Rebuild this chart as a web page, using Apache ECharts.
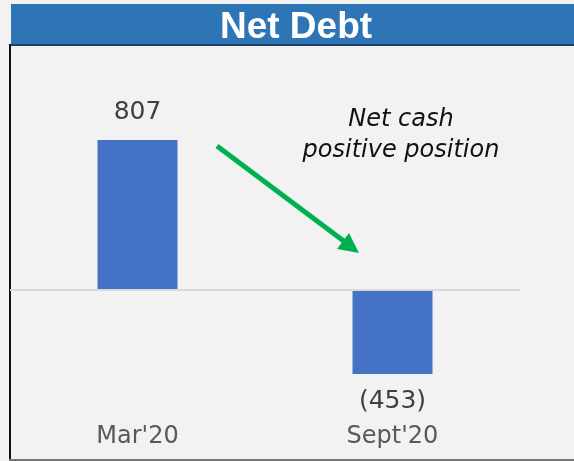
<!DOCTYPE html>
<html>
<head>
<meta charset="utf-8">
<script src="https://cdn.jsdelivr.net/npm/echarts@6/dist/echarts.min.js"></script>
<style>
  html, body { margin: 0; padding: 0; background: #f2f2f2; }
  #chart { width: 574px; height: 461px; }
</style>
</head>
<body>
<div id="chart"></div>
<script>
// data
var categories = ["Mar'20", "Sept'20"];
var netDebt = [807, -453];
var chartTitle = 'Net Debt';
var note = ['Net cash', 'positive position'];

var myChart = echarts.init(document.getElementById('chart'));

var barData = netDebt.map(function (v) {
	return { value: v, label: { position: v < 0 ? 'bottom' : 'top' } };
});

var option = {
	backgroundColor: '#f2f2f2',
	animation: false,
	grid: { left: 10, right: 54, top: 104, bottom: 41 },
	xAxis: {
		type: 'category',
		data: categories,
		axisLine: { show: false, onZero: false },
		axisTick: { show: false },
		axisLabel: {
			margin: 5,
			color: '#595959',
			fontFamily: 'DejaVu Sans',
			fontSize: 24
		}
	},
	yAxis: {
		type: 'value',
		min: -700,
		max: 1000,
		show: false,
		splitLine: { show: false }
	},
	series: [
		{
			type: 'bar',
			barWidth: 80,
			itemStyle: { color: '#4472c4' },
			label: {
				show: true,
				distance: 15,
				color: '#404040',
				fontFamily: 'DejaVu Sans',
				fontSize: 25,
				formatter: function (p) {
					return p.value < 0 ? '(' + Math.abs(p.value) + ')' : p.value;
				}
			},
			markLine: {
				silent: true,
				symbol: 'none',
				label: { show: false },
				lineStyle: { color: '#d9d9d9', width: 2, type: 'solid' },
				data: [{ yAxis: 0 }]
			},
			data: barData
		}
	],
	graphic: [
		// title band
		{ type: 'rect', shape: { x: 11, y: 4, width: 563, height: 41 }, style: { fill: '#2e75b6' } },
		{ type: 'rect', shape: { x: 11, y: 44, width: 563, height: 2 }, style: { fill: '#1f3f66' } },
		{
			type: 'text', x: 296, y: 28,
			style: {
				text: chartTitle, fill: '#fff', align: 'center', verticalAlign: 'middle',
				font: 'bold 37px "Liberation Sans", Arial, sans-serif'
			}
		},
		// frame lines
		{ type: 'rect', shape: { x: 9, y: 44, width: 2, height: 417 }, style: { fill: '#111' } },
		{ type: 'rect', shape: { x: 9, y: 459, width: 565, height: 2 }, style: { fill: '#767676' } },
		// note
		{
			type: 'text', x: 401, y: 104,
			style: {
				text: note.join('\n'), fill: '#111', align: 'center', verticalAlign: 'top',
				lineHeight: 31, font: 'italic 24px "DejaVu Sans", sans-serif'
			}
		},
		// green arrow
		{ type: 'line', shape: { x1: 217, y1: 146, x2: 345, y2: 242 }, style: { stroke: '#00b050', lineWidth: 5 } },
		{ type: 'polygon', shape: { points: [[337, 249], [349, 233], [359, 253]] }, style: { fill: '#00b050' } }
	]
};

myChart.setOption(option);
window.addEventListener('resize', function () { myChart.resize(); }, false);
</script>
</body>
</html>
